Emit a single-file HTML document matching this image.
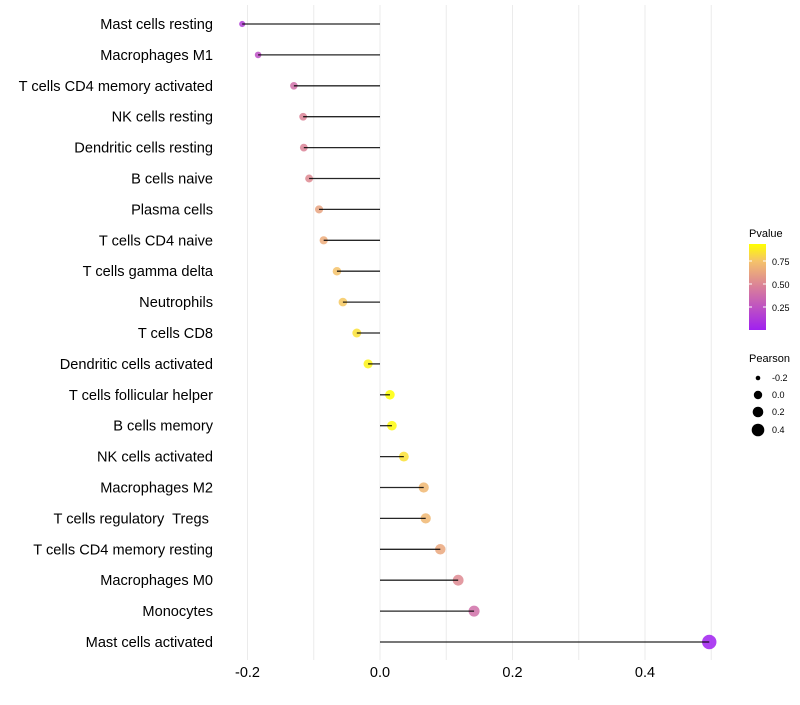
<!DOCTYPE html>
<html><head><meta charset="utf-8"><style>
body{margin:0;background:#fff;}
svg text{font-family:"Liberation Sans",sans-serif;white-space:pre;}
</style></head><body>
<svg id="chart" width="800" height="700" xmlns="http://www.w3.org/2000/svg">
<defs><linearGradient id="pg" x1="0" y1="1" x2="0" y2="0">
<stop offset="0" stop-color="#a020f0"/><stop offset="0.5" stop-color="#d97f9a"/><stop offset="0.8" stop-color="#f5c26a"/><stop offset="1" stop-color="#ffff00"/></linearGradient></defs>
<g id="grid"></g>
<g id="segs"></g>
<g id="ylab"></g>
<g id="xlab"></g>
<g>
<text x="749" y="237" font-size="11" fill="#000">Pvalue</text>
<rect x="749" y="244" width="17" height="86" fill="url(#pg)"/>
<line x1="749" y1="261" x2="752" y2="261" stroke="#fff"/><line x1="763" y1="261" x2="766" y2="261" stroke="#fff"/>
<line x1="749" y1="284" x2="752" y2="284" stroke="#fff"/><line x1="763" y1="284" x2="766" y2="284" stroke="#fff"/>
<line x1="749" y1="307" x2="752" y2="307" stroke="#fff"/><line x1="763" y1="307" x2="766" y2="307" stroke="#fff"/>
<text x="772" y="265" font-size="9">0.75</text>
<text x="772" y="288" font-size="9">0.50</text>
<text x="772" y="311" font-size="9">0.25</text>
</g>
<g>
<text x="749" y="362" font-size="11">Pearson</text>
<circle cx="758" cy="378" r="2.3"/><text x="772" y="381" font-size="9">-0.2</text>
<circle cx="758" cy="395" r="4.2"/><text x="772" y="398" font-size="9">0.0</text>
<circle cx="758" cy="412" r="5.3"/><text x="772" y="415" font-size="9">0.2</text>
<circle cx="758" cy="430" r="6.3"/><text x="772" y="433" font-size="9">0.4</text>
</g>
<g id="pts"></g>
</svg>
<script>
const cells=["Mast cells resting","Macrophages M1","T cells CD4 memory activated","NK cells resting","Dendritic cells resting","B cells naive","Plasma cells","T cells CD4 naive","T cells gamma delta","Neutrophils","T cells CD8","Dendritic cells activated","T cells follicular helper","B cells memory","NK cells activated","Macrophages M2","T cells regulatory  Tregs ","T cells CD4 memory resting","Macrophages M0","Monocytes","Mast cells activated"];
const pearson=[-0.208,-0.184,-0.130,-0.116,-0.115,-0.107,-0.092,-0.085,-0.065,-0.056,-0.035,-0.018,0.015,0.018,0.036,0.066,0.069,0.091,0.118,0.142,0.497];
const pvalue=[0.15,0.25,0.42,0.52,0.52,0.55,0.66,0.7,0.8,0.82,0.9,0.96,1.0,0.98,0.9,0.75,0.75,0.68,0.55,0.42,0.0];
const xTicks=[-0.2,0,0.2,0.4];
const xTickLabels=["-0.2","0.0","0.2","0.4"];
const NS="http://www.w3.org/2000/svg";
const X=v=>380+v*662.5;
const Y=i=>24+i*30.9;
function lerp(a,b,t){return a.map((c,k)=>Math.round(c+(b[k]-c)*t));}
function col(p){const s=[[0,[160,32,240]],[0.5,[217,127,154]],[0.8,[245,194,106]],[1,[255,255,0]]];
for(let k=1;k<s.length;k++){if(p<=s[k][0]){const t=(p-s[k-1][0])/(s[k][0]-s[k-1][0]);return "rgb("+lerp(s[k-1][1],s[k][1],t).join(",")+")";}}return "rgb(255,255,0)";}
function mk(tag,at,parent){const e=document.createElementNS(NS,tag);for(const k in at)e.setAttribute(k,at[k]);document.getElementById(parent).appendChild(e);return e;}
for(let g=-0.2;g<=0.51;g+=0.1){const l=mk("line",{x1:X(g),x2:X(g),y1:5,y2:660,stroke:"#ebebeb","stroke-width":1},"grid");

}
xTicks.forEach((t,i)=>{const e=mk("text",{x:X(t),y:677,"font-size":14.5,"text-anchor":"middle",fill:"#000"},"xlab");e.textContent=xTickLabels[i];

});
cells.forEach((c,i)=>{
const t=mk("text",{x:213,y:Y(i)+5,"font-size":14.6,"text-anchor":"end",fill:"#000"},"ylab");t.textContent=c;


const r=Math.sqrt(Math.max(1,22+60*pearson[i]));
const p=mk("circle",{cx:X(pearson[i]),cy:Y(i),r:r,fill:col(pvalue[i]),"fill-opacity":0.85},"pts");


const s=mk("line",{x1:X(0),x2:X(pearson[i]),y1:Y(i),y2:Y(i),stroke:"#000","stroke-width":1.3,"stroke-opacity":0.85},"pts");


});
</script>
</body></html>
